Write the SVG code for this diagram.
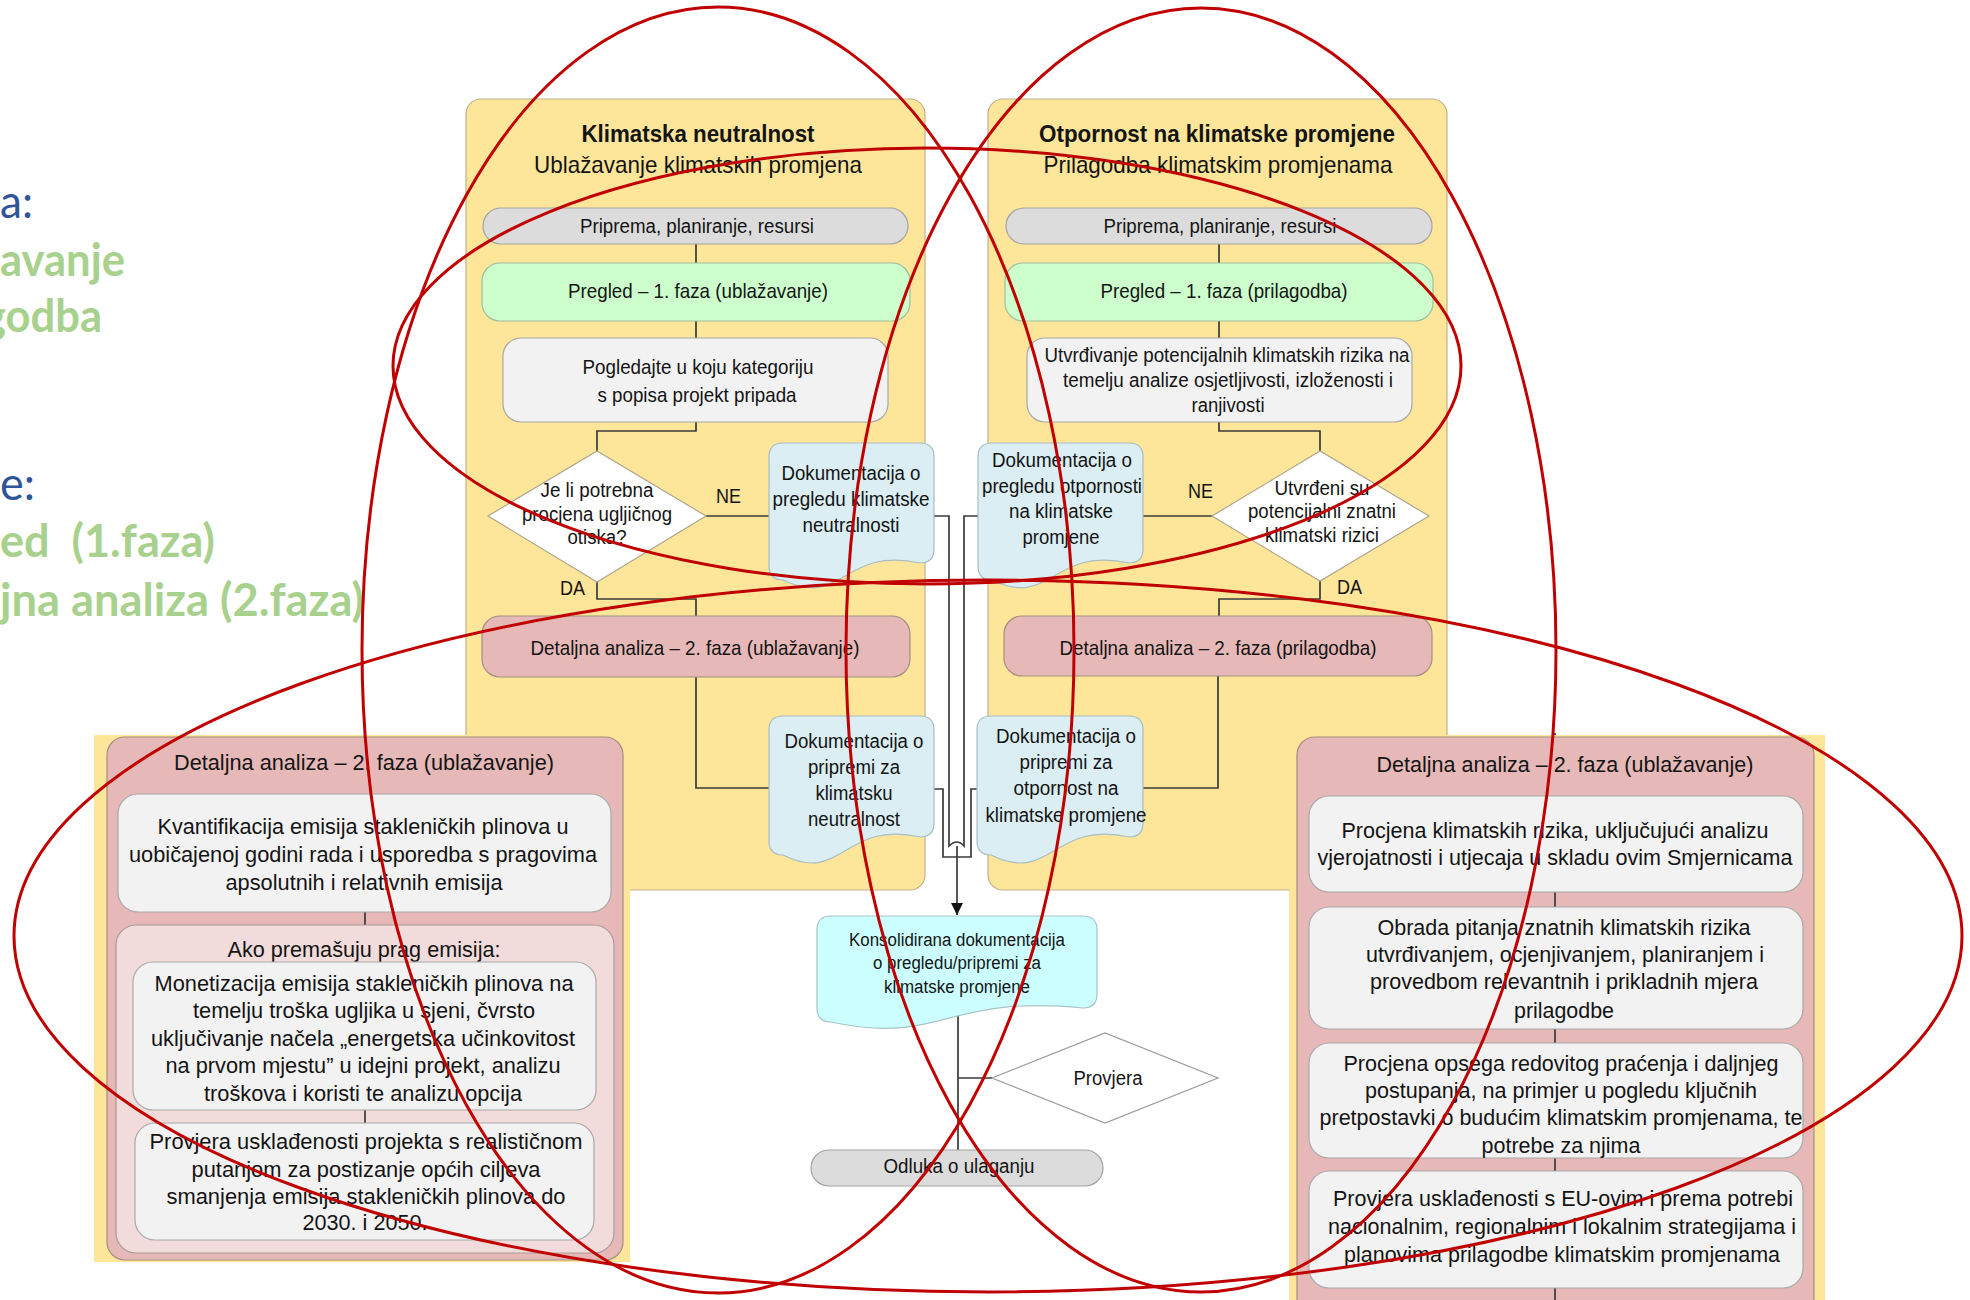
<svg xmlns="http://www.w3.org/2000/svg" width="1970" height="1300" viewBox="0 0 1970 1300">
<defs>
<style>
.t{font-family:"Liberation Sans",Arial,sans-serif;fill:#141414;text-anchor:middle}
.s24{font-size:24px}.s22{font-size:22px}.s21{font-size:21px}.s20{font-size:20px}.s18{font-size:18px}
.b{font-weight:bold}
.st{text-anchor:start}
.side{font-family:Lato,"Liberation Sans",sans-serif;font-size:46px}
.blue{fill:#2f5597}.green{fill:#a9d18e;font-weight:bold}
.panel{fill:#fde59a;stroke:#c2b089;stroke-width:1.2}
.ybg{fill:#fde59a}
.gray{fill:#dcdcdc;stroke:#a3a3a3;stroke-width:1.2}
.grn{fill:#ccffcc;stroke:#9fbf9f;stroke-width:1.2}
.wht{fill:#f2f2f2;stroke:#a8a8a8;stroke-width:1.2}
.pink{fill:#e6b9b8;stroke:#a48f7f;stroke-width:1.2}
.lpink{fill:#f2dcdb;stroke:#a89a94;stroke-width:1.2}
.doc{fill:#daeef3;stroke:#a9bdc4;stroke-width:1.2}
.cdoc{fill:#ccffff;stroke:#a9c4c4;stroke-width:1.2}
.dia{fill:#ffffff;stroke:#b0a58c;stroke-width:1.2}
.dia2{fill:#ffffff;stroke:#9c9c9c;stroke-width:1.2}
.ln{fill:none;stroke:#3a3a3a;stroke-width:1.7}
.red{fill:none;stroke:#c00000;stroke-width:3}
</style>
<marker id="arr" viewBox="0 0 10 10" refX="10" refY="5" markerWidth="12" markerHeight="12" markerUnits="userSpaceOnUse" orient="auto">
<path d="M0,0 L10,5 L0,10 Z" fill="#111"/>
</marker>
</defs>
<rect width="1970" height="1300" fill="#ffffff"/>

<g id="side-text">
<text class="side blue" x="0" y="218" textLength="33" lengthAdjust="spacingAndGlyphs">a:</text>
<text class="side green" x="0" y="276" textLength="125" lengthAdjust="spacingAndGlyphs">avanje</text>
<text class="side green" x="-17" y="332" textLength="119" lengthAdjust="spacingAndGlyphs">godba</text>
<text class="side blue" x="0" y="500" textLength="35" lengthAdjust="spacingAndGlyphs">e:</text>
<text class="side green" x="0" y="557" textLength="215" lengthAdjust="spacingAndGlyphs">ed&#160; (1.faza)</text>
<text class="side green" x="0" y="616" textLength="364" lengthAdjust="spacingAndGlyphs">jna analiza (2.faza)</text>
</g>

<g id="panel-mitigation">
<rect class="panel" x="466" y="99" width="459" height="791" rx="15"/>
<text class="t s24 b" x="698" y="142" textLength="233" lengthAdjust="spacingAndGlyphs">Klimatska neutralnost</text>
<text class="t s24" x="698" y="173" textLength="328" lengthAdjust="spacingAndGlyphs">Ublažavanje klimatskih promjena</text>
</g>
<g id="panel-adaptation">
<rect class="panel" x="988" y="99" width="459" height="791" rx="15"/>
<text class="t s24 b" x="1217" y="142" textLength="356" lengthAdjust="spacingAndGlyphs">Otpornost na klimatske promjene</text>
<text class="t s24" x="1218" y="173" textLength="349" lengthAdjust="spacingAndGlyphs">Prilagodba klimatskim promjenama</text>
</g>

<g id="connectors">
<path class="ln" d="M696,244 V263 M696,321 V338 M696,422 V431 H597 V451 M706,516 H769 M597,582 V599 H696 V616 M696,677 V788 H769"/>
<path class="ln" d="M1219,244 V263 M1219,321 V338 M1219,422 V431 H1320 V451 M1212,516 H1143 M1320,581 V599 H1219 V616 M1218,676 V788 H1143"/>
<path class="ln" d="M934,516 H949 V838 M978,516 H964 V838 M934,789 H943 V838 M978,789 H971 V838"/>
<path class="ln" stroke-width="1.3" d="M943,838 V857 H971 V838 M949,838 V846 Q957,838 964,846 V838"/>
<path class="ln" d="M957,846 V915" marker-end="url(#arr)"/>
<path class="ln" d="M958,1000 V1150 M958,1078 H992"/>
<path class="ln" d="M365,733 V737 M365,912 V925 M365,1110 V1123 M1555,733 V737 M1555,892 V907 M1555,1029 V1043 M1555,1158 V1171 M1555,1288 V1300"/>
</g>

<g id="priprema-left"><rect class="gray" x="483" y="208" width="425" height="36" rx="18"/>
<text class="t s20" x="697" y="233" textLength="234" lengthAdjust="spacingAndGlyphs">Priprema, planiranje, resursi</text></g>
<g id="pregled-left"><rect class="grn" x="482" y="263" width="428" height="58" rx="18"/>
<text class="t s21" x="698" y="298" textLength="260" lengthAdjust="spacingAndGlyphs">Pregled – 1. faza (ublažavanje)</text></g>
<g id="kategorija"><rect class="wht" x="503" y="338" width="385" height="84" rx="18"/>
<text class="t s21" x="698" y="374" textLength="231" lengthAdjust="spacingAndGlyphs">Pogledajte u koju kategoriju</text>
<text class="t s21" x="697" y="402" textLength="199" lengthAdjust="spacingAndGlyphs">s popisa projekt pripada</text></g>
<g id="odluka-ugljik"><polygon class="dia" points="488,516 597,451 706,516 597,582"/>
<text class="t s20" x="597" y="497" textLength="113" lengthAdjust="spacingAndGlyphs">Je li potrebna</text>
<text class="t s20" x="597" y="521" textLength="150" lengthAdjust="spacingAndGlyphs">procjena ugljičnog</text>
<text class="t s20" x="597" y="544" textLength="59" lengthAdjust="spacingAndGlyphs">otiska?</text>
<text class="t s20 st" x="716" y="503" textLength="25" lengthAdjust="spacingAndGlyphs">NE</text>
<text class="t s20 st" x="560" y="595" textLength="25" lengthAdjust="spacingAndGlyphs">DA</text></g>
<g id="doc-pregled-neutralnost"><path class="doc" d="M783,443 H920 Q934,443 934,457 V549 Q934,563 920,563 C843,546 843,609 783,580 Q769,580 769,566 V457 Q769,443 783,443 Z"/>
<text class="t s20" x="851" y="480" textLength="139" lengthAdjust="spacingAndGlyphs">Dokumentacija o</text>
<text class="t s20" x="851" y="506" textLength="157" lengthAdjust="spacingAndGlyphs">pregledu klimatske</text>
<text class="t s20" x="851" y="532" textLength="97" lengthAdjust="spacingAndGlyphs">neutralnosti</text></g>
<g id="detaljna-left"><rect class="pink" x="482" y="616" width="428" height="61" rx="18"/>
<text class="t s21" x="695" y="655" textLength="329" lengthAdjust="spacingAndGlyphs">Detaljna analiza – 2. faza (ublažavanje)</text></g>
<g id="doc-priprema-neutralnost"><path class="doc" d="M783,716 H920 Q934,716 934,730 V823 Q934,837 920,837 C843,820 843,885 783,855 Q769,855 769,841 V730 Q769,716 783,716 Z"/>
<text class="t s20" x="854" y="748" textLength="139" lengthAdjust="spacingAndGlyphs">Dokumentacija o</text>
<text class="t s20" x="854" y="774" textLength="92" lengthAdjust="spacingAndGlyphs">pripremi za</text>
<text class="t s20" x="854" y="800" textLength="77" lengthAdjust="spacingAndGlyphs">klimatsku</text>
<text class="t s20" x="854" y="826" textLength="92" lengthAdjust="spacingAndGlyphs">neutralnost</text></g>

<g id="priprema-right"><rect class="gray" x="1006" y="208" width="426" height="36" rx="18"/>
<text class="t s20" x="1220" y="233" textLength="233" lengthAdjust="spacingAndGlyphs">Priprema, planiranje, resursi</text></g>
<g id="pregled-right"><rect class="grn" x="1005" y="263" width="428" height="58" rx="18"/>
<text class="t s21" x="1224" y="298" textLength="247" lengthAdjust="spacingAndGlyphs">Pregled – 1. faza (prilagodba)</text></g>
<g id="utvrdivanje"><rect class="wht" x="1027" y="338" width="385" height="84" rx="18"/>
<text class="t s20" x="1227" y="362" textLength="365" lengthAdjust="spacingAndGlyphs">Utvrđivanje potencijalnih klimatskih rizika na</text>
<text class="t s20" x="1228" y="387" textLength="330" lengthAdjust="spacingAndGlyphs">temelju analize osjetljivosti, izloženosti i</text>
<text class="t s20" x="1228" y="412" textLength="73" lengthAdjust="spacingAndGlyphs">ranjivosti</text></g>
<g id="odluka-rizici"><polygon class="dia" points="1212,516 1320,451 1429,516 1320,581"/>
<text class="t s20" x="1322" y="495" textLength="95" lengthAdjust="spacingAndGlyphs">Utvrđeni su</text>
<text class="t s20" x="1322" y="518" textLength="148" lengthAdjust="spacingAndGlyphs">potencijalni znatni</text>
<text class="t s20" x="1322" y="542" textLength="114" lengthAdjust="spacingAndGlyphs">klimatski rizici</text>
<text class="t s20 st" x="1188" y="498" textLength="25" lengthAdjust="spacingAndGlyphs">NE</text>
<text class="t s20 st" x="1337" y="594" textLength="25" lengthAdjust="spacingAndGlyphs">DA</text></g>
<g id="doc-pregled-otpornost"><path class="doc" d="M992,443 H1129 Q1143,443 1143,457 V549 Q1143,563 1129,563 C1052,546 1052,609 992,580 Q978,580 978,566 V457 Q978,443 992,443 Z"/>
<text class="t s20" x="1062" y="467" textLength="140" lengthAdjust="spacingAndGlyphs">Dokumentacija o</text>
<text class="t s20" x="1062" y="493" textLength="160" lengthAdjust="spacingAndGlyphs">pregledu otpornosti</text>
<text class="t s20" x="1061" y="518" textLength="104" lengthAdjust="spacingAndGlyphs">na klimatske</text>
<text class="t s20" x="1061" y="544" textLength="77" lengthAdjust="spacingAndGlyphs">promjene</text></g>
<g id="detaljna-right"><rect class="pink" x="1004" y="616" width="428" height="60" rx="18"/>
<text class="t s21" x="1218" y="655" textLength="317" lengthAdjust="spacingAndGlyphs">Detaljna analiza – 2. faza (prilagodba)</text></g>
<g id="doc-priprema-otpornost"><path class="doc" d="M991,716 H1129 Q1143,716 1143,730 V823 Q1143,837 1129,837 C1052,820 1052,885 991,855 Q977,855 977,841 V730 Q977,716 991,716 Z"/>
<text class="t s20" x="1066" y="743" textLength="140" lengthAdjust="spacingAndGlyphs">Dokumentacija o</text>
<text class="t s20" x="1066" y="769" textLength="93" lengthAdjust="spacingAndGlyphs">pripremi za</text>
<text class="t s20" x="1066" y="795" textLength="105" lengthAdjust="spacingAndGlyphs">otpornost na</text>
<text class="t s20" x="1066" y="822" textLength="161" lengthAdjust="spacingAndGlyphs">klimatske promjene</text></g>

<g id="konsolidirana"><path class="cdoc" d="M831,916 H1083 Q1097,916 1097,930 V994 Q1097,1008 1083,1008 C943,994 943,1046 831,1022 Q817,1022 817,1008 V930 Q817,916 831,916 Z"/>
<text class="t s18" x="957" y="946" textLength="216" lengthAdjust="spacingAndGlyphs">Konsolidirana dokumentacija</text>
<text class="t s18" x="957" y="969" textLength="168" lengthAdjust="spacingAndGlyphs">o pregledu/pripremi za</text>
<text class="t s18" x="957" y="993" textLength="146" lengthAdjust="spacingAndGlyphs">klimatske promjene</text></g>
<g id="provjera"><polygon class="dia2" points="992,1078 1105,1033 1218,1078 1105,1123"/>
<text class="t s20" x="1108" y="1085" textLength="69" lengthAdjust="spacingAndGlyphs">Provjera</text></g>
<g id="odluka-ulaganje"><rect class="gray" x="811" y="1150" width="292" height="36" rx="18"/>
<text class="t s20" x="959" y="1173" textLength="151" lengthAdjust="spacingAndGlyphs">Odluka o ulaganju</text></g>

<g id="detaljna-ublazavanje-panel">
<rect class="ybg" x="94" y="735" width="536" height="527"/>
<rect class="pink" x="107" y="737" width="516" height="523" rx="18"/>
<path class="ln" d="M365,912 V925 M365,1110 V1123"/>
<text class="t s22" x="364" y="770" textLength="380" lengthAdjust="spacingAndGlyphs">Detaljna analiza – 2. faza (ublažavanje)</text>
<g id="kvantifikacija"><rect class="wht" x="118" y="794" width="493" height="118" rx="20"/>
<text class="t s22" x="363" y="834" textLength="411" lengthAdjust="spacingAndGlyphs">Kvantifikacija emisija stakleničkih plinova u</text>
<text class="t s22" x="363" y="862" textLength="468" lengthAdjust="spacingAndGlyphs">uobičajenoj godini rada i usporedba s pragovima</text>
<text class="t s22" x="364" y="890" textLength="277" lengthAdjust="spacingAndGlyphs">apsolutnih i relativnih emisija</text></g>
<g id="prag-emisija"><rect class="lpink" x="116" y="925" width="498" height="328" rx="20"/>
<text class="t s22" x="364" y="957" textLength="273" lengthAdjust="spacingAndGlyphs">Ako premašuju prag emisija:</text></g>
<path class="ln" d="M365,1110 V1123"/>
<g id="monetizacija"><rect class="wht" x="133" y="962" width="463" height="148" rx="20"/>
<text class="t s22" x="364" y="991" textLength="419" lengthAdjust="spacingAndGlyphs">Monetizacija emisija stakleničkih plinova na</text>
<text class="t s22" x="364" y="1018" textLength="342" lengthAdjust="spacingAndGlyphs">temelju troška ugljika u sjeni, čvrsto</text>
<text class="t s22" x="363" y="1046" textLength="424" lengthAdjust="spacingAndGlyphs">uključivanje načela „energetska učinkovitost</text>
<text class="t s22" x="363" y="1073" textLength="395" lengthAdjust="spacingAndGlyphs">na prvom mjestu” u idejni projekt, analizu</text>
<text class="t s22" x="363" y="1101" textLength="318" lengthAdjust="spacingAndGlyphs">troškova i koristi te analizu opcija</text></g>
<g id="uskladenost-projekta"><rect class="wht" x="135" y="1123" width="459" height="117" rx="20"/>
<text class="t s22" x="366" y="1149" textLength="433" lengthAdjust="spacingAndGlyphs">Provjera usklađenosti projekta s realističnom</text>
<text class="t s22" x="366" y="1177" textLength="349" lengthAdjust="spacingAndGlyphs">putanjom za postizanje općih ciljeva</text>
<text class="t s22" x="366" y="1204" textLength="399" lengthAdjust="spacingAndGlyphs">smanjenja emisija stakleničkih plinova do</text>
<text class="t s22" x="365" y="1230" textLength="125" lengthAdjust="spacingAndGlyphs">2030. i 2050.</text></g>
</g>

<g id="detaljna-prilagodba-panel">
<rect class="ybg" x="1289" y="735" width="536" height="565"/>
<rect class="pink" x="1297" y="737" width="517" height="580" rx="18"/>
<path class="ln" d="M1555,892 V907 M1555,1029 V1043 M1555,1158 V1171 M1555,1288 V1300"/>
<text class="t s22" x="1565" y="772" textLength="377" lengthAdjust="spacingAndGlyphs">Detaljna analiza – 2. faza (ublažavanje)</text>
<g id="procjena-rizika"><rect class="wht" x="1309" y="796" width="494" height="96" rx="20"/>
<text class="t s22" x="1555" y="838" textLength="427" lengthAdjust="spacingAndGlyphs">Procjena klimatskih rizika, uključujući analizu</text>
<text class="t s22" x="1555" y="865" textLength="475" lengthAdjust="spacingAndGlyphs">vjerojatnosti i utjecaja u skladu ovim Smjernicama</text></g>
<g id="obrada-rizika"><rect class="wht" x="1309" y="907" width="494" height="122" rx="20"/>
<text class="t s22" x="1564" y="935" textLength="373" lengthAdjust="spacingAndGlyphs">Obrada pitanja znatnih klimatskih rizika</text>
<text class="t s22" x="1565" y="962" textLength="398" lengthAdjust="spacingAndGlyphs">utvrđivanjem, ocjenjivanjem, planiranjem i</text>
<text class="t s22" x="1564" y="989" textLength="388" lengthAdjust="spacingAndGlyphs">provedbom relevantnih i prikladnih mjera</text>
<text class="t s22" x="1564" y="1018" textLength="100" lengthAdjust="spacingAndGlyphs">prilagodbe</text></g>
<g id="pracenje"><rect class="wht" x="1309" y="1043" width="494" height="115" rx="20"/>
<text class="t s22" x="1561" y="1071" textLength="435" lengthAdjust="spacingAndGlyphs">Procjena opsega redovitog praćenja i daljnjeg</text>
<text class="t s22" x="1561" y="1098" textLength="392" lengthAdjust="spacingAndGlyphs">postupanja, na primjer u pogledu ključnih</text>
<text class="t s22" x="1561" y="1125" textLength="483" lengthAdjust="spacingAndGlyphs">pretpostavki o budućim klimatskim promjenama, te</text>
<text class="t s22" x="1561" y="1153" textLength="159" lengthAdjust="spacingAndGlyphs">potrebe za njima</text></g>
<g id="uskladenost-strategije"><rect class="wht" x="1309" y="1171" width="494" height="117" rx="20"/>
<text class="t s22" x="1563" y="1206" textLength="460" lengthAdjust="spacingAndGlyphs">Provjera usklađenosti s EU-ovim i prema potrebi</text>
<text class="t s22" x="1562" y="1234" textLength="468" lengthAdjust="spacingAndGlyphs">nacionalnim, regionalnim i lokalnim strategijama i</text>
<text class="t s22" x="1562" y="1262" textLength="436" lengthAdjust="spacingAndGlyphs">planovima prilagodbe klimatskim promjenama</text></g>
</g>

<g id="highlight-ellipses">
<ellipse class="red" cx="718" cy="650" rx="356" ry="643"/>
<ellipse class="red" cx="1201" cy="650" rx="355" ry="642"/>
<ellipse class="red" cx="927" cy="366" rx="534" ry="218"/>
<ellipse class="red" cx="988" cy="936" rx="974" ry="356"/>
</g>
</svg>
